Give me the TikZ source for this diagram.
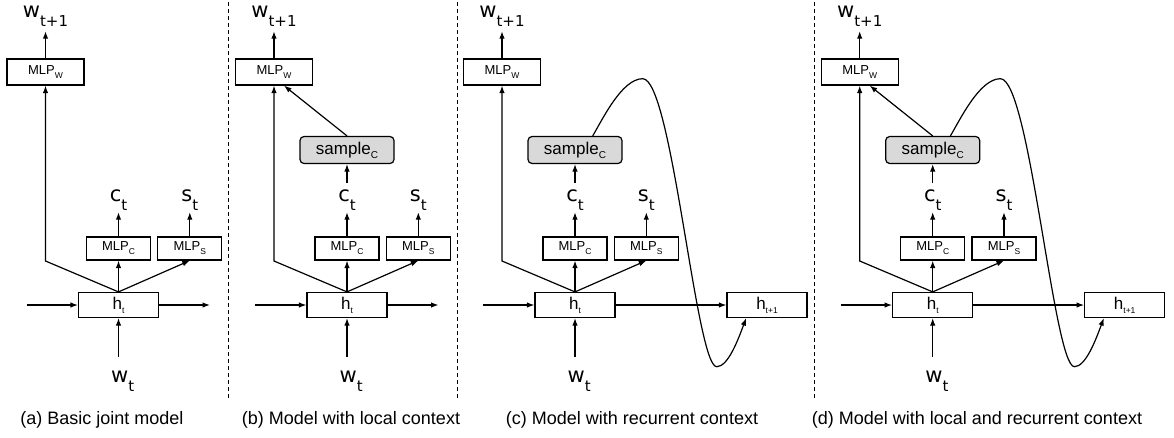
\documentclass[tikz,border=0pt]{standalone}
\usepackage{fontspec}
\setmainfont{Liberation Sans}
\newfontfamily\djv{DejaVu Sans}
\usetikzlibrary{arrows.meta}
\newcommand\lbl[2]{{\djv\fontsize{21}{21}\selectfont #1\raisebox{-9pt}{\fontsize{15}{15}\selectfont #2}}}
\newcommand\mlp[1]{{\fontsize{13}{13}\selectfont MLP\raisebox{-4pt}{\fontsize{8.5}{8.5}\selectfont #1}}}
\newcommand\htxt[1]{{\fontsize{17}{17}\selectfont h\raisebox{-4pt}{\fontsize{8.5}{8.5}\selectfont #1}}}
\newcommand\smp{{\fontsize{17}{17}\selectfont sample\raisebox{-4pt}{\fontsize{10}{10}\selectfont C}}}
\tikzset{
  box/.style={draw, line width=1.2pt, inner sep=0pt},
  wbox/.style={box, minimum width=77pt, minimum height=26pt},
  mbox/.style={box, minimum width=64pt, minimum height=23pt},
  hbox/.style={box, minimum width=80pt, minimum height=25pt},
  sbox/.style={draw, fill=gray!30, rounded corners=4pt, line width=1.2pt, minimum width=94pt, minimum height=27pt, inner sep=0pt},
  lab/.style={inner sep=0pt},
  arr/.style={line width=1.2pt, -{Latex[length=7.5pt,width=5.5pt]}},
  sepline/.style={line width=0.9pt, dash pattern=on 4pt off 3pt},
  captxt/.style={inner sep=0pt, anchor=base, font=\fontsize{18}{18}\selectfont}
}
% common part of a panel: #1 prefix, #2 x of h_t
\newcommand\panelcore[2]{%
\begin{scope}[shift={(#2,0)}]
  \node[wbox] (#1w) at (-73,72) {\mlp{W}};
  \node[lab, anchor=base] (#1wl) at (-73,17) {\lbl{w}{t+1}};
  \node[mbox] (#1c) at (0,248.5) {\mlp{C}};
  \node[mbox] (#1s) at (71.3,248.5) {\mlp{S}};
  \node[lab, anchor=base] (#1cl) at (0,201) {\lbl{c}{t}};
  \node[lab, anchor=base] (#1sl) at (71.3,201) {\lbl{s}{t}};
  \node[hbox] (#1h) at (0,305) {\htxt{t}};
  \node[lab, anchor=base west] (#1x) at (-7.5,382) {\lbl{w}{t}};
  \coordinate (#1in) at (-92,305);
  \coordinate (#1k) at (-73,261);
  \coordinate (#1xt) at (0,357);
  \draw[arr] (#1h.north) -- (#1c.south);
  \draw[arr] (#1h.north) -- (#1s.south);
  \draw[arr] (#1h.north) -- (#1k) -- (#1w.south);
  \draw[arr] (#1in) -- (#1h.west);
  \draw[arr] (#1xt) -- (#1h.south);
  \draw[arr, shorten >=5pt] (#1w.north) -- (#1wl.south);
  \draw[arr, shorten >=2pt] (#1c.north) -- (#1cl.south);
  \draw[arr, shorten >=2pt] (#1s.north) -- (#1sl.south);
\end{scope}}
\newcommand\panelsample[2]{%
\begin{scope}[shift={(#2,0)}]
  \node[sbox] (#1p) at (0,150) {\smp};
  \draw[arr, shorten <=6pt] (#1cl.north) -- (#1p.south);
\end{scope}}
\newcommand\panelrec[2]{%
\begin{scope}[shift={(#2,0)}]
  \node[hbox] (#1n) at (192,305) {\htxt{t+1}};
  \draw[arr] (#1h.east) -- (#1n.west);
  \draw[arr] ([xshift=17.7pt]#1p.north) .. controls (27.7,119) and (47,78.7) .. (67.7,78.7)
     .. controls (97,78.7) and (121,366.7) .. (141.7,366.7)
     .. controls (153,366.7) and (163,340) .. ([xshift=19.7pt]#1n.south west);
\end{scope}}
\begin{document}
\begin{tikzpicture}[x=1pt,y=-1pt]
\useasboundingbox (0,0) rectangle (1174,437);
% separators
\draw[sepline] (228.7,2) -- (228.7,398);
\draw[sepline] (457,2) -- (457,398);
\draw[sepline] (814,2) -- (814,398);
% (a)
\panelcore{a}{118.5}
\coordinate (aout) at (210,305);
\draw[arr] (ah.east) -- (aout);
% (b)
\panelcore{b}{347}
\panelsample{b}{347}
\coordinate (bout) at (438.5,305);
\draw[arr] (bh.east) -- (bout);
\draw[arr] (bp.north) -- ([xshift=10pt]bw.south);
% (c)
\panelcore{c}{575}
\panelsample{c}{575}
\panelrec{c}{575}
% (d)
\panelcore{d}{932.7}
\panelsample{d}{932.7}
\panelrec{d}{932.7}
\draw[arr] (dp.north) -- ([xshift=10pt]dw.south);
% captions
\node[captxt] (capa) at (102,424) {(a) Basic joint model};
\node[captxt] (capb) at (351,424) {(b) Model with local context};
\node[captxt] (capc) at (632,424) {(c) Model with recurrent context};
\node[captxt] (capd) at (977,424) {(d) Model with local and recurrent context};
\end{tikzpicture}
\end{document}
